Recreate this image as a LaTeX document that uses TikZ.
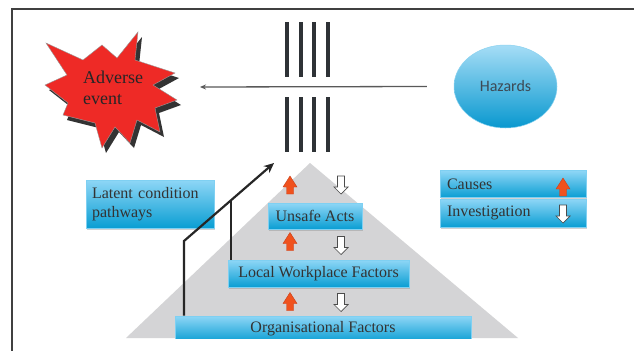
\documentclass[tikz,border=0pt]{standalone}
\usepackage{fontspec}
\newfontfamily\serf{LiberationSerif}[Extension=.ttf, UprightFont=*-Regular, BoldFont=*-Bold]
\newfontfamily\hazfont{Carlito}
\usetikzlibrary{shadows,arrows.meta,shapes.geometric}
\definecolor{boxtop}{HTML}{8ED6F6}
\definecolor{boxbot}{HTML}{0A9ED3}
\definecolor{boxedge}{HTML}{7FD0F2}
\definecolor{txt}{HTML}{333333}
\definecolor{pyr}{HTML}{D4D4D6}
\definecolor{starred}{HTML}{EE2A26}
\definecolor{starshadow}{HTML}{333333}
\definecolor{causeor}{HTML}{F0521E}
\definecolor{causeedge}{HTML}{C8401A}
\definecolor{barcol}{HTML}{2E3236}
\definecolor{hztop}{HTML}{A6DDF6}
\definecolor{hzbot}{HTML}{0898CF}
\definecolor{hzedge}{HTML}{8AD2F0}
\definecolor{hztext}{HTML}{3D4A55}
\begin{document}
\begin{tikzpicture}[x=1pt,y=-1pt,
  bluebox/.style={rectangle, draw=boxedge, line width=0.7pt, top color=boxtop, bottom color=boxbot,
    text=txt, font=\serf\fontsize{16}{19}\selectfont, inner sep=0pt,
    drop shadow={shadow xshift=1pt, shadow yshift=-1.5pt, opacity=0.35}},
  barline/.style={line width=4pt, draw=barcol},
  conn/.style={line width=2.2pt, draw=black!85},
  upar/.pic={\draw[fill=causeor, draw=causeedge, line width=0.4pt]
     (-3.5,9) -- (-3.5,2) -- (-7,2) -- (0,-9) -- (7,2) -- (3.5,2) -- (3.5,9) -- cycle;},
  downar/.pic={\draw[fill=white, draw=black!70, line width=0.7pt]
     (-3.5,-9) -- (-3.5,2) -- (-7,2) -- (0,9) -- (7,2) -- (3.5,2) -- (3.5,-9) -- cycle;}
]
\useasboundingbox (0,0) rectangle (634,351);
\fill[white] (0,0) rectangle (634,351);

\begin{scope}
\clip (0,0) rectangle (634,338.5);

% pyramid
\fill[pyr] (310,163) -- (518,338) -- (126,338) -- cycle;

% starburst with shadow
\begin{scope}[shift={(4,5)}]
\fill[starshadow] (46,43) -- (83,60) -- (102,45) -- (117,58) -- (138,32) -- (135,60) -- (175,73)
  -- (153,85) -- (177,100) -- (155,108) -- (160,132) -- (137,120) -- (130,143) -- (115,127)
  -- (102,148) -- (95,123) -- (63,115) -- (68,103) -- (45,85) -- (67,75) -- cycle;
\end{scope}
\draw[fill=starred, draw=black!40, line width=0.4pt] (46,43) -- (83,60) -- (102,45) -- (117,58) -- (138,32) -- (135,60) -- (175,73)
  -- (153,85) -- (177,100) -- (155,108) -- (160,132) -- (137,120) -- (130,143) -- (115,127)
  -- (102,148) -- (95,123) -- (63,115) -- (68,103) -- (45,85) -- (67,75) -- cycle;
\node[align=left, inner sep=0pt, text=black!85, font=\serf\fontsize{18}{21}\selectfont, anchor=west] (adv) at (83,88) {Adverse\\event};

% hazards
\node[ellipse, minimum width=103pt, minimum height=83pt, top color=hztop, bottom color=hzbot,
  draw=hzedge, line width=0.5pt, text=hztext, font=\hazfont\fontsize{16}{20}\selectfont] (haz) at (505.5,86.5) {Hazards};
\coordinate (advtip) at (200,87);
\draw[line width=1.3pt, draw=black!65, -{Stealth[length=6pt,width=5pt]}] ([xshift=-27pt]haz.west) -- (advtip);

% bars
\foreach \bx in {287,301,314,328} {
  \draw[barline] (\bx,22) -- (\bx,77);
  \draw[barline] (\bx,97) -- (\bx,152);
}

% boxes
\node[bluebox, minimum width=94pt, minimum height=26pt] (unsafe) at (315,216) {Unsafe Acts};
\node[bluebox, minimum width=181pt, minimum height=27pt] (lwf) at (318.5,273.5) {Local Workplace Factors};
\node[bluebox, minimum width=296pt, minimum height=26pt] (org) at (323,329) {Organisational Factors};
\node[bluebox, minimum width=128pt, minimum height=48pt, text width=116pt, align=left] (latent) at (150,204) {Latent condition\\pathways};
\node[bluebox, minimum width=146pt, minimum height=27pt, text width=132pt, align=left] (causes) at (513,184) {Causes};
\node[bluebox, minimum width=146pt, minimum height=28pt, text width=132pt, align=left] (invest) at (513,213) {Investigation};

% arrows in pyramid
\pic at (290,185) {upar};
\pic at (290,241.5) {upar};
\pic at (290,301.5) {upar};
\pic at (341,185) {downar};
\pic at (341,245.5) {downar};
\pic at (341,302.5) {downar};
\pic at (563,187) {upar};
\pic at (563,214) {downar};

% latent pathways connectors
\coordinate (bend) at (184,241);
\coordinate (tip) at (274,163);
\coordinate (join) at (231,200.3);
\draw[conn, -{Stealth[length=10pt,width=9pt]}] (org.north -| bend) -- (bend) -- (tip);
\draw[conn] (lwf.north -| join) -- (join);
\end{scope}

% frame
\draw[line width=2pt, draw=black!75] (634,9) -- (11.5,9) -- (11.5,351);
\end{tikzpicture}
\end{document}
